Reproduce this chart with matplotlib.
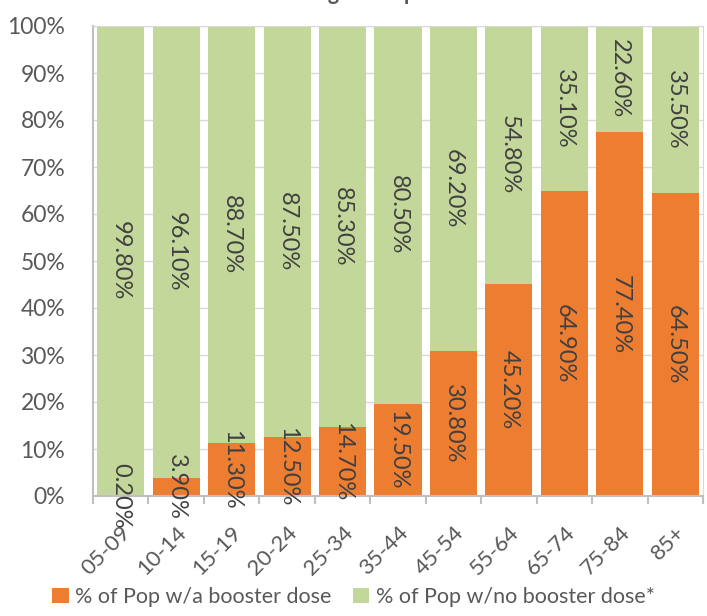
import matplotlib
matplotlib.use("Agg")
import matplotlib.pyplot as plt
import numpy as np

categories = ["05-09", "10-14", "15-19", "20-24", "25-34", "35-44",
              "45-54", "55-64", "65-74", "75-84", "85+"]
booster = [0.2, 3.9, 11.3, 12.5, 14.7, 19.5, 30.8, 45.2, 64.9, 77.4, 64.5]
no_booster = [99.8, 96.1, 88.7, 87.5, 85.3, 80.5, 69.2, 54.8, 35.1, 22.6, 35.5]
series_names = ["% of Pop w/a booster dose", "% of Pop w/no booster dose*"]
title = "Age Group"

plt.rcParams['font.family'] = ['Lato', 'DejaVu Sans']
orange = "#ED7D31"
green = "#C4D79B"
label_col = "#404040"
tick_col = "#595959"
fs = 15.5

fig = plt.figure(figsize=(7.07, 6.16), dpi=100)
ax = fig.add_axes([93/707, 120/616, 610/707, 470/616])

x = np.arange(len(categories))
w = 0.85
b1 = ax.bar(x, booster, w, color=orange, label=series_names[0], zorder=2)
b2 = ax.bar(x, no_booster, w, bottom=booster, color=green, label=series_names[1], zorder=2)

for i in range(len(categories)):
    ax.text(x[i], booster[i] / 2, f"{booster[i]:.2f}%", rotation=-90,
            ha='center', va='center', fontsize=17, color=label_col, zorder=3,
            rotation_mode='anchor')
    ax.text(x[i], booster[i] + no_booster[i] / 2, f"{no_booster[i]:.2f}%", rotation=-90,
            ha='center', va='center', fontsize=17, color=label_col, zorder=3,
            rotation_mode='anchor')

ax.set_xlim(-0.5, len(categories) - 0.5)
ax.set_ylim(0, 100)
ax.set_yticks(np.arange(0, 101, 10))
ax.set_yticklabels([f"{v}%" for v in range(0, 101, 10)])
ax.yaxis.grid(True, color="#D9D9D9", linewidth=1, zorder=0)
ax.set_axisbelow(True)
ax.tick_params(axis='y', length=0, labelsize=fs + 1, labelcolor=tick_col, pad=20)

ax.set_xticks(x)
ax.set_xticklabels(categories, rotation=45, ha='right', va='top', rotation_mode='anchor')
ax.set_xticks(np.arange(-0.5, len(categories)), minor=True)
ax.tick_params(axis='x', which='major', length=0, labelsize=fs + 0.5, labelcolor=tick_col, pad=19)
ax.tick_params(axis='x', which='minor', length=6, color="#BFBFBF", width=1.5)

for s in ['top', 'right']:
    ax.spines[s].set_color("#D9D9D9")
for s in ['left', 'bottom']:
    ax.spines[s].set_color("#BFBFBF")
    ax.spines[s].set_linewidth(1.5)

leg = fig.legend(handles=[b1, b2], loc='center', bbox_to_anchor=(0.5, 19/616),
                 ncol=2, frameon=False, fontsize=fs, handlelength=0.75, handleheight=0.75,
                 handletextpad=0.3, columnspacing=1.0, labelcolor=tick_col)

fig.text(0.516, 1.0, title, ha='center', va='baseline', fontsize=15.5,
         fontweight='bold', color=tick_col)

fig.savefig("out.png", dpi=100)
